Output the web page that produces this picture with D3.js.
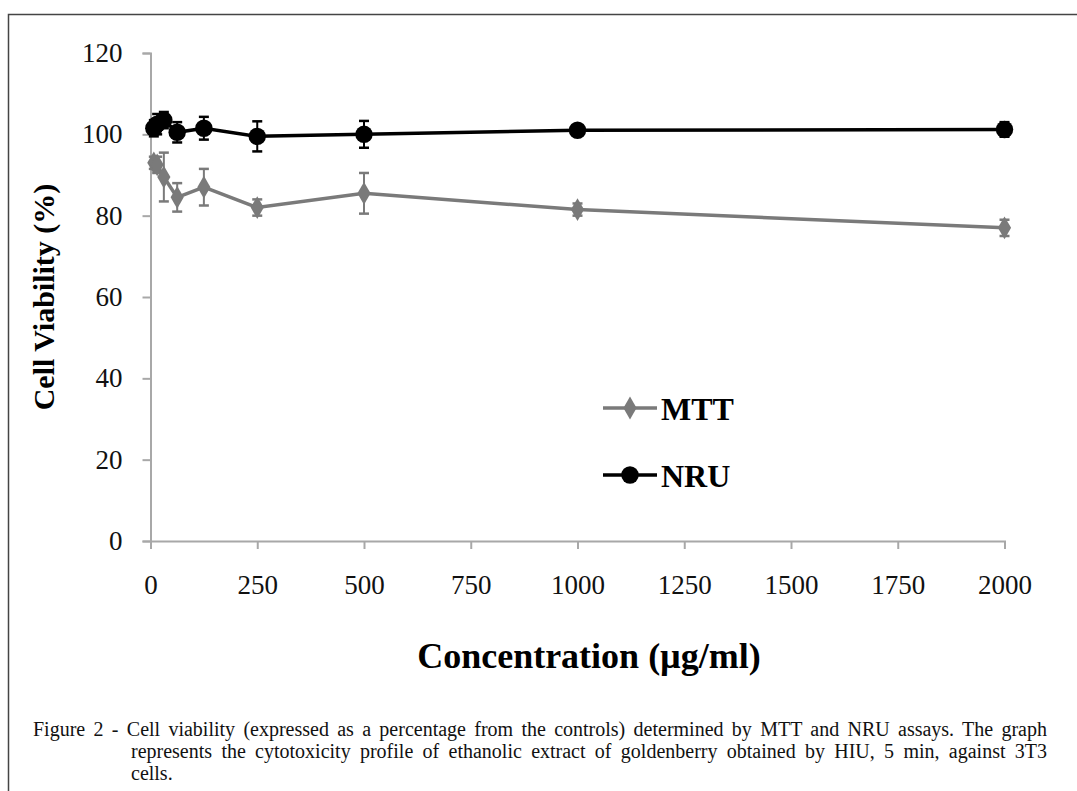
<!DOCTYPE html>
<html>
<head>
<meta charset="utf-8">
<script src="https://cdn.jsdelivr.net/npm/d3@7"></script>
<style>
  body { margin: 0; background: #fff; }
  svg { display: block; }
  text { font-family: "Liberation Serif", "Times New Roman", serif; }
</style>
</head>
<body>
<div id="chart"></div>
<script>
// concentrations (µg/ml)
const conc = [7.8, 15.6, 31.25, 62.5, 125, 250, 500, 1000, 2000];
// MTT assay, mean and SD
const mtt = [93, 92.5, 89.5, 84.5, 87, 82, 85.5, 81.5, 77];
const mttErr = [1.5, 2, 6, 3.5, 4.5, 2, 5, 1.5, 2];
// NRU assay, mean and SD
const nru = [101.5, 102.5, 103.5, 100.5, 101.5, 99.5, 100, 101, 101.2];
const nruErr = [2, 2.5, 2, 2.5, 2.8, 3.7, 3.3, 1, 1.8];

const xTicks = [0, 250, 500, 750, 1000, 1250, 1500, 1750, 2000];
const yTicks = [0, 20, 40, 60, 80, 100, 120];

const captionLines = [
    'Figure 2 - Cell viability (expressed as a percentage from the controls) determined by MTT and NRU assays. The graph',
    'represents the cytotoxicity profile of ethanolic extract of goldenberry obtained by HIU, 5 min, against 3T3',
    'cells.'
];

const width = 1077;
const height = 791;

const svg = d3.select('#chart')
    .append('svg')
    .attr('width', width)
    .attr('height', height);

// frame (top and left only)
svg.append('path')
    .attr('d', `M8.5,${height} V14.5 H${width}`)
    .attr('fill', 'none')
    .attr('stroke', '#444')
    .attr('stroke-width', 1.5);

const x = d3.scaleLinear().domain([0, 2000]).range([150.5, 1004.5]);
const y = d3.scaleLinear().domain([0, 120]).range([541, 53]);

const axisColor = '#a8a8a8';

// y axis
const yAxis = svg.append('g')
    .attr('transform', `translate(${x(0)},0)`)
    .call(d3.axisLeft(y).tickValues(yTicks).tickSize(8).tickPadding(20));
yAxis.select('.domain').attr('stroke', axisColor).attr('stroke-width', 2);
yAxis.selectAll('.tick line').attr('stroke', axisColor).attr('stroke-width', 2);
yAxis.selectAll('.tick text')
    .attr('fill', '#111')
    .style('font-size', '27px')
    .style('font-family', '"Liberation Serif", serif');

// x axis
const xAxis = svg.append('g')
    .attr('transform', `translate(0,${y(0)})`)
    .call(d3.axisBottom(x).tickValues(xTicks).tickFormat(d3.format('d')).tickSize(8).tickPadding(26));
xAxis.select('.domain').attr('stroke', axisColor).attr('stroke-width', 2);
xAxis.selectAll('.tick line').attr('stroke', axisColor).attr('stroke-width', 2);
xAxis.selectAll('.tick text')
    .attr('fill', '#111')
    .style('font-size', '27px')
    .style('font-family', '"Liberation Serif", serif');

// axis titles
svg.append('text')
    .attr('transform', `translate(54,${(y(0) + y(120)) / 2}) rotate(-90)`)
    .attr('text-anchor', 'middle')
    .attr('font-weight', 'bold')
    .attr('font-size', 30)
    .attr('fill', '#000')
    .text('Cell Viability (%)');

svg.append('text')
    .attr('x', 589)
    .attr('y', 668)
    .attr('text-anchor', 'middle')
    .attr('font-weight', 'bold')
    .attr('font-size', 36)
    .attr('fill', '#000')
    .text('Concentration (µg/ml)');

const series = [
    { name: 'MTT', values: mtt, err: mttErr, color: '#7a7a7a', shape: d3.symbolDiamond, size: 150 },
    { name: 'NRU', values: nru, err: nruErr, color: '#000', shape: d3.symbolCircle, size: 240 }
];

const line = d3.line()
    .x(d => x(d.c))
    .y(d => y(d.v));

series.forEach(s => {
    const pts = conc.map((c, i) => ({ c: c, v: s.values[i], e: s.err[i] }));
    const g = svg.append('g');

    g.append('path')
        .datum(pts)
        .attr('d', line)
        .attr('fill', 'none')
        .attr('stroke', s.color)
        .attr('stroke-width', 3.5);

    // error bars
    const eb = g.selectAll('.eb')
        .data(pts)
        .enter()
        .append('g');
    eb.append('line')
        .attr('x1', d => x(d.c)).attr('x2', d => x(d.c))
        .attr('y1', d => y(d.v - d.e)).attr('y2', d => y(d.v + d.e))
        .attr('stroke', s.color).attr('stroke-width', 2);
    eb.append('line')
        .attr('x1', d => x(d.c) - 5).attr('x2', d => x(d.c) + 5)
        .attr('y1', d => y(d.v + d.e)).attr('y2', d => y(d.v + d.e))
        .attr('stroke', s.color).attr('stroke-width', 2.5);
    eb.append('line')
        .attr('x1', d => x(d.c) - 5).attr('x2', d => x(d.c) + 5)
        .attr('y1', d => y(d.v - d.e)).attr('y2', d => y(d.v - d.e))
        .attr('stroke', s.color).attr('stroke-width', 2.5);

    g.selectAll('.pt')
        .data(pts)
        .enter()
        .append('path')
        .attr('transform', d => `translate(${x(d.c)},${y(d.v)})`)
        .attr('d', d3.symbol().type(s.shape).size(s.size))
        .attr('fill', s.color);
});

// legend
const legendY = [408, 475];
series.forEach((s, i) => {
    const lg = svg.append('g').attr('transform', `translate(603,${legendY[i]})`);
    lg.append('line')
        .attr('x1', 0).attr('x2', 54)
        .attr('stroke', s.color).attr('stroke-width', 3.5);
    lg.append('path')
        .attr('transform', 'translate(27,0)')
        .attr('d', d3.symbol().type(s.shape).size(s.size))
        .attr('fill', s.color);
    lg.append('text')
        .attr('x', 58)
        .attr('y', 12)
        .attr('font-weight', 'bold')
        .attr('font-size', 32)
        .attr('fill', '#000')
        .text(s.name);
});

// caption, justified by widening the word spaces
const capRows = [
    { x: 33, y: 736, right: 1047 },
    { x: 131, y: 758, right: 1047 },
    { x: 131, y: 780, right: null }
];
const cap = svg.append('g')
    .attr('font-size', 20)
    .attr('fill', '#111');
captionLines.forEach((txt, i) => {
    const r = capRows[i];
    const t = cap.append('text')
        .attr('x', r.x).attr('y', r.y)
        .text(txt);
    if (r.right) {
        const natural = t.node().getComputedTextLength();
        const gaps = txt.split(' ').length - 1;
        t.attr('word-spacing', Math.max(0, (r.right - r.x - natural) / gaps));
    }
});
</script>
</body>
</html>
